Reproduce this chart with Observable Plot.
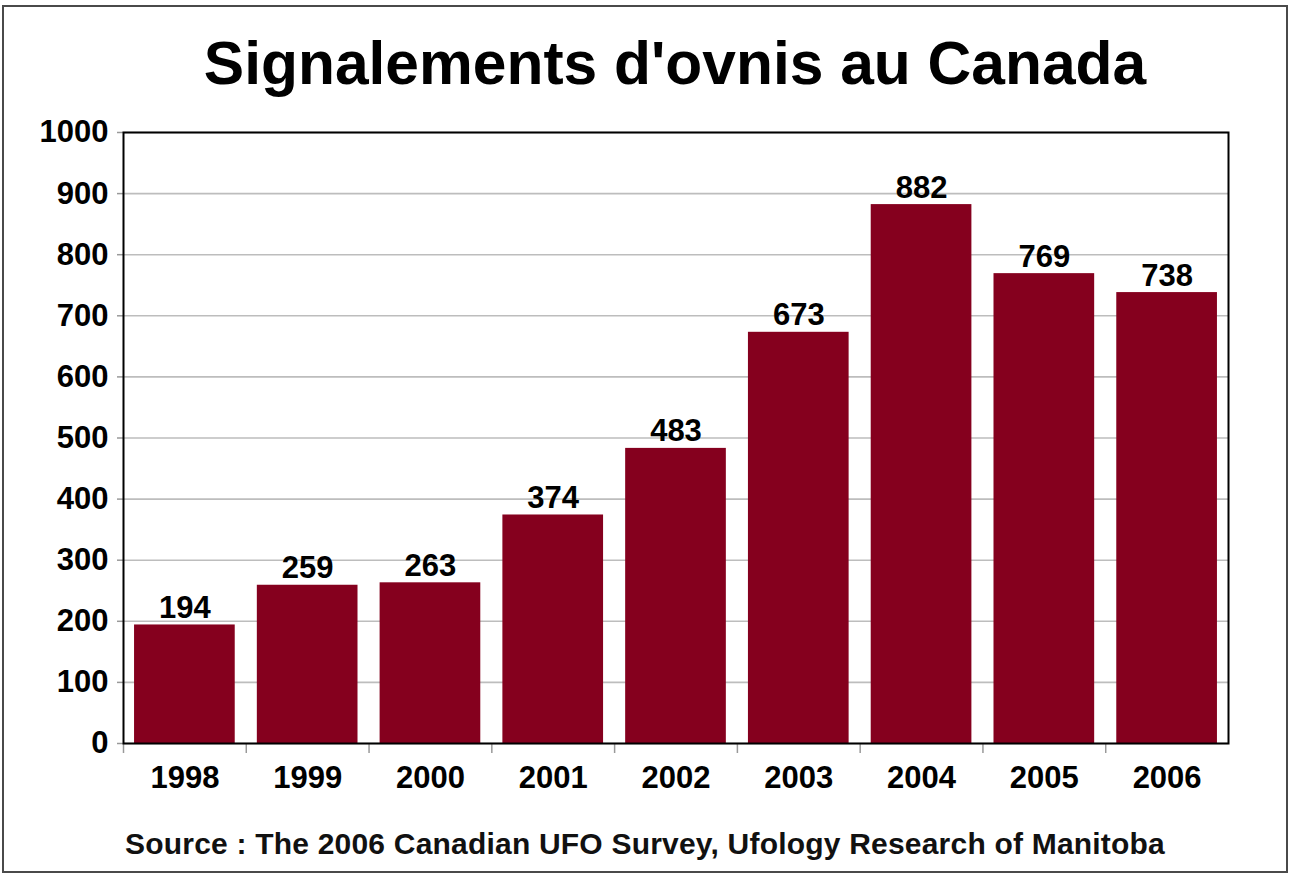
<!DOCTYPE html>
<html>
<head>
<meta charset="utf-8">
<script src="https://cdn.jsdelivr.net/npm/d3@7"></script>
<script src="https://cdn.jsdelivr.net/npm/@observablehq/plot@0.6"></script>
<style>
  html, body { margin: 0; padding: 0; background: #fff; }
  #wrap { position: relative; width: 1294px; height: 875px; font-family: "Liberation Sans", Arial, sans-serif; }
  #border { position: absolute; left: 2px; top: 5px; width: 1282px; height: 864px; border: 2px solid #4a4a4a; box-sizing: content-box; }
  #title { position: absolute; left: 0; width: 1350px; top: 23px; text-align: center; font-weight: bold; font-size: 60.5px; line-height: 80px; color: #000; }
  #source { position: absolute; left: 125px; top: 826px; font-size: 30px; font-weight: bold; line-height: 36px; color: #111; white-space: nowrap; }
  #chart { position: absolute; left: 0; top: 0; }
</style>
</head>
<body>
<div id="wrap">
  <div id="chart"></div>
  <div id="border"></div>
  <div id="title">Signalements d'ovnis au Canada</div>
  <div id="source">Source : The 2006 Canadian UFO Survey, Ufology Research of Manitoba</div>
</div>
<script>
const years = ["1998", "1999", "2000", "2001", "2002", "2003", "2004", "2005", "2006"];
const reports = [194, 259, 263, 374, 483, 673, 882, 769, 738];
const yTicks = [0, 100, 200, 300, 400, 500, 600, 700, 800, 900, 1000];

const data = years.map((year, i) => ({year, value: reports[i]}));

const W = 1294, H = 875;
const mLeft = 123, mRight = 66, mTop = 132, mBottom = 132;
const step = (W - mLeft - mRight) / years.length;

const chart = Plot.plot({
  width: W,
  height: H,
  marginLeft: mLeft,
  marginRight: mRight,
  marginTop: mTop,
  marginBottom: mBottom,
  style: {fontFamily: "'Liberation Sans', Arial, sans-serif", fontSize: "31px", fontWeight: "bold", background: "transparent", overflow: "visible"},
  x: {domain: years, padding: 0.18, paddingOuter: 0.09, round: false, label: null},
  y: {domain: [0, 1000], label: null},
  marks: [
    Plot.gridY(yTicks, {stroke: "#bdbdbd", strokeOpacity: 1, strokeWidth: 1.6}),
    Plot.barY(data, {x: "year", y: "value", fill: "#85001e"}),
    Plot.text(data, {x: "year", y: "value", text: d => String(d.value), lineAnchor: "bottom", dy: -7, fill: "#000", fontSize: 31, fontWeight: "bold"}),
    Plot.axisY(yTicks, {tickSize: 6, tickPadding: 9, stroke: "#999", fill: "#000", strokeWidth: 1.5, fontSize: 31, label: null, tickFormat: d => String(d)}),
    Plot.axisX({tickSize: 0, tickPadding: 22, fill: "#000", fontSize: 31, label: null}),
    Plot.ruleX(years, {x: d => d, dx: -step / 2, y1: 0, y2: 0, insetBottom: -10, stroke: "#999", strokeWidth: 1.5}),
    Plot.frame({stroke: "#000", strokeWidth: 2})
  ]
});
document.getElementById("chart").appendChild(chart);

// fit the source line to the reference width
const src = document.getElementById("source");
const target = 1040;
const n = src.textContent.length;
const w = src.getBoundingClientRect().width;
src.style.letterSpacing = ((target - w) / n) + "px";
</script>
</body>
</html>
